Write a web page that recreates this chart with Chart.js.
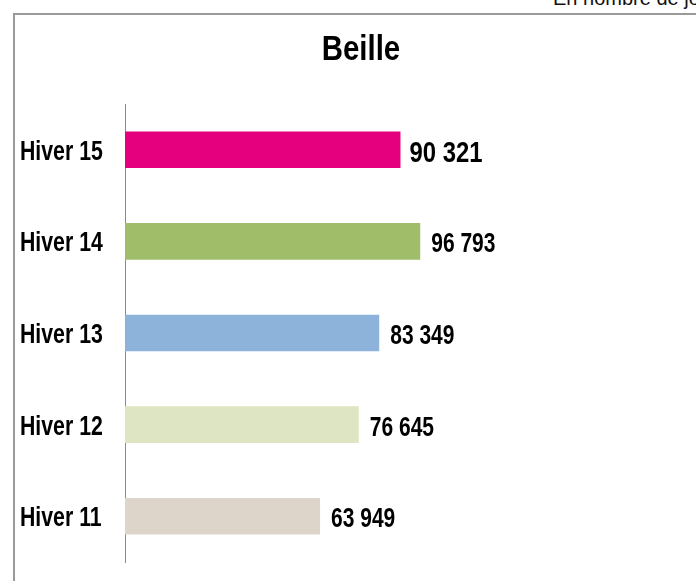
<!DOCTYPE html>
<html>
<head>
<meta charset="utf-8">
<script src="https://cdn.jsdelivr.net/npm/chart.js@4"></script>
<style>
  html, body { margin: 0; padding: 0; background: #fff; overflow: hidden; }
  #wrap { position: relative; width: 696px; height: 581px; overflow: hidden; }
  #frame { position: absolute; left: 13px; top: 13px; width: 800px; height: 700px;
           border-left: 2px solid #9a9a9a; border-top: 2px solid #9a9a9a; }
  #unit { position: absolute; left: 553px; top: -13px; white-space: nowrap;
          font-family: "Liberation Sans", Arial, sans-serif; font-size: 20px; color: #111; }
  #c { position: absolute; left: 0; top: 0; }
</style>
</head>
<body>
<div id="wrap">
  <div id="frame"></div>
  <div id="unit">En nombre de journées skieurs</div>
  <canvas id="c" width="696" height="581"></canvas>
</div>
<script>
const title = "Beille";
const categories = ["Hiver 15", "Hiver 14", "Hiver 13", "Hiver 12", "Hiver 11"];
const values = [90321, 96793, 83349, 76645, 63949];
const barColors = ["#E5007D", "#A0BE6A", "#8DB3DA", "#DDE5C2", "#DED5CA"];
const axisMax = 180000;

const FONT = '"Liberation Sans", Arial, sans-serif';

function fmt(v) {
  return String(v).replace(/\B(?=(\d{3})+(?!\d))/g, " ");
}

// draw text horizontally condensed (the original uses a narrow font)
function drawNarrow(ctx, text, x, y, sx, font, align) {
  ctx.save();
  ctx.font = font;
  ctx.textAlign = align;
  ctx.textBaseline = "alphabetic";
  ctx.translate(x, y);
  ctx.scale(sx, 1);
  ctx.fillText(text, 0, 0);
  ctx.restore();
}

const textPlugin = {
  id: "textPlugin",
  afterDraw(chart) {
    const ctx = chart.ctx;
    ctx.save();
    ctx.fillStyle = "#000";
    // title
    drawNarrow(ctx, title, 361, 60, 0.84, "bold 35px " + FONT, "center");
    // category labels from the y scale
    const ys = chart.scales.y;
    ys.ticks.forEach((t, i) => {
      const y = ys.getPixelForTick(i);
      drawNarrow(ctx, ys.getLabelForValue(t.value), 20, y + 10, 0.76, "bold 28px " + FONT, "left");
    });
    // value labels at bar ends
    const meta = chart.getDatasetMeta(0);
    meta.data.forEach((bar, i) => {
      const hl = i === 0;
      drawNarrow(ctx, fmt(values[i]), bar.x + (hl ? 9 : 11), bar.y + (hl ? 12 : 11),
                 hl ? 0.81 : 0.75, (hl ? "bold 29.5px " : "bold 28px ") + FONT, "left");
    });
    ctx.restore();
  }
};

new Chart(document.getElementById("c"), {
  type: "bar",
  data: {
    labels: categories,
    datasets: [{
      data: values,
      backgroundColor: barColors,
      borderWidth: 0,
      barPercentage: 0.4,
      categoryPercentage: 1.0
    }]
  },
  options: {
    indexAxis: "y",
    responsive: false,
    animation: false,
    devicePixelRatio: 1,
    layout: { padding: { left: 20, right: 22, top: 104, bottom: 19 } },
    plugins: {
      legend: { display: false },
      tooltip: { enabled: false },
      title: { display: false }
    },
    scales: {
      x: {
        display: false,
        min: 0,
        max: axisMax
      },
      y: {
        grid: { display: false },
        border: { display: true, color: "#8a8a8a", width: 1 },
        afterFit(scale) { scale.width = 105; },
        ticks: { display: false }
      }
    }
  },
  plugins: [textPlugin]
});
</script>
</body>
</html>
